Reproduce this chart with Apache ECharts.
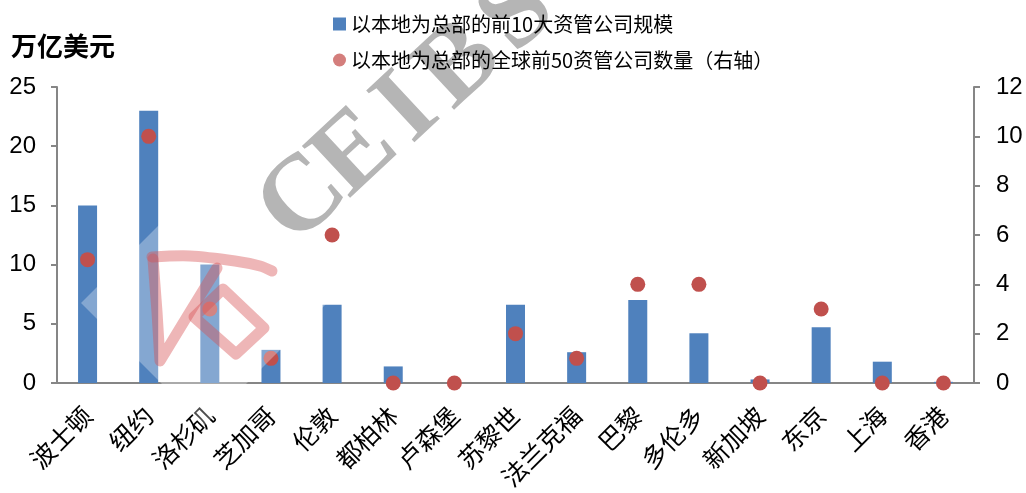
<!DOCTYPE html>
<html>
<head>
<meta charset="utf-8">
<script src="https://cdn.jsdelivr.net/npm/echarts@6/dist/echarts.min.js"></script>
<style>
  html, body { margin: 0; padding: 0; background: #fff; }
  #chart { width: 1026px; height: 493px; }
</style>
</head>
<body>
<div id="chart"></div>
<script>
// Cities
const cities = ['波士顿', '纽约', '洛杉矶', '芝加哥', '伦敦', '都柏林', '卢森堡', '苏黎世',
  '法兰克福', '巴黎', '多伦多', '新加坡', '东京', '上海', '香港'];
// AUM of the top 10 managers headquartered in each city (trillion USD)
const top10Aum = [15, 23, 10, 2.8, 6.6, 1.4, 0, 6.6, 2.6, 7.0, 4.2, 0.3, 4.7, 1.8, 0.1];
// Number of global top-50 managers headquartered in each city (right axis)
const top50Count = [5, 10, 3, 1, 6, 0, 0, 2, 1, 4, 4, 0, 3, 0, 0];

const barName = '以本地为总部的前10大资管公司规模';
const dotName = '以本地为总部的全球前50资管公司数量（右轴）';
const leftUnit = '万亿美元';

const cjk = '"Noto Sans CJK SC", "Noto Sans", sans-serif';
const num = '"Liberation Sans", Arial, sans-serif';
const axisGray = '#868686';

const chart = echarts.init(document.getElementById('chart'), null, { renderer: 'canvas' });

// Watermark letters laid along a diagonal
const mark = ['C', 'E', 'I', 'B', 'S'];
const markPos = [[304, 200], [356, 154], [408, 110], [460, 66], [518, 14]];
const watermark = mark.map((ch, i) => ({
  type: 'text',
  x: markPos[i][0], y: markPos[i][1],
  rotation: 0.75,
  z: 1,
  silent: true,
  style: {
    text: ch,
    font: 'bold 108px "Liberation Serif", "Times New Roman", serif',
    fill: '#b5b5b5',
    align: 'center',
    verticalAlign: 'middle'
  }
}));

const logoStroke = {
  stroke: 'rgba(214, 80, 84, 0.42)',
  lineWidth: 11,
  lineCap: 'round',
  lineJoin: 'round',
  fill: null
};

const logo = [
  {
    type: 'polygon', z: 10, silent: true,
    shape: { points: [[81, 303], [204, 180], [327, 303], [204, 426]] },
    style: { fill: 'rgba(255,255,255,0.3)' }
  },
  {
    type: 'polyline', z: 11, silent: true,
    shape: { points: [[152, 257], [190, 256], [235, 261], [260, 266], [272, 271]], smooth: 0.3 },
    style: logoStroke
  },
  {
    type: 'polyline', z: 11, silent: true,
    shape: { points: [[153, 259], [157, 312], [160, 361], [188, 315], [217, 268]] },
    style: logoStroke
  },
  {
    type: 'polygon', z: 11, silent: true,
    shape: { points: [[194, 317], [223, 289], [264, 328], [236, 354]] },
    style: logoStroke
  }
];

chart.setOption({
  backgroundColor: '#ffffff',
  animation: false,
  grid: { left: 57, right: 52, top: 87, bottom: 110, containLabel: false },
  legend: {
    orient: 'vertical',
    left: 328,
    top: 9,
    itemWidth: 13,
    itemHeight: 13,
    itemGap: 16,
    textStyle: { fontFamily: cjk, fontSize: 20, color: '#000' },
    data: [
      { name: barName, icon: 'rect', itemStyle: { color: '#4F81BD' } },
      { name: dotName, icon: 'circle', itemStyle: { color: '#D47E7C' } }
    ]
  },
  graphic: [
    {
      type: 'text', left: 11, top: 33, z: 5,
      style: { text: leftUnit, font: 'bold 26px ' + cjk, fill: '#000' }
    },
    ...watermark,
    ...logo
  ],
  xAxis: {
    type: 'category',
    data: cities,
    axisLine: { lineStyle: { color: axisGray, width: 2 } },
    axisTick: { show: false },
    axisLabel: {
      interval: 0,
      rotate: 45,
      margin: 28,
      fontFamily: cjk,
      fontSize: 25,
      color: '#000'
    }
  },
  yAxis: [
    {
      type: 'value', min: 0, max: 25, interval: 5,
      splitLine: { show: false },
      axisLine: { show: true, lineStyle: { color: axisGray, width: 2 } },
      axisTick: { show: true, length: 6, lineStyle: { color: axisGray, width: 2 } },
      axisLabel: { margin: 21, fontFamily: num, fontSize: 24, color: '#000' }
    },
    {
      type: 'value', min: 0, max: 12, interval: 2,
      splitLine: { show: false },
      axisLine: { show: true, lineStyle: { color: axisGray, width: 2 } },
      axisTick: { show: true, length: 6, lineStyle: { color: axisGray, width: 2 } },
      axisLabel: { margin: 22, fontFamily: num, fontSize: 24, color: '#000' }
    }
  ],
  series: [
    {
      name: barName,
      type: 'bar',
      yAxisIndex: 0,
      data: top10Aum,
      barWidth: 19,
      itemStyle: { color: '#4F81BD' },
      z: 2
    },
    {
      name: dotName,
      type: 'scatter',
      yAxisIndex: 1,
      data: top50Count,
      symbol: 'circle',
      symbolSize: 15,
      itemStyle: { color: '#C0504D', opacity: 1 },
      z: 3
    }
  ]
});
</script>
</body>
</html>
